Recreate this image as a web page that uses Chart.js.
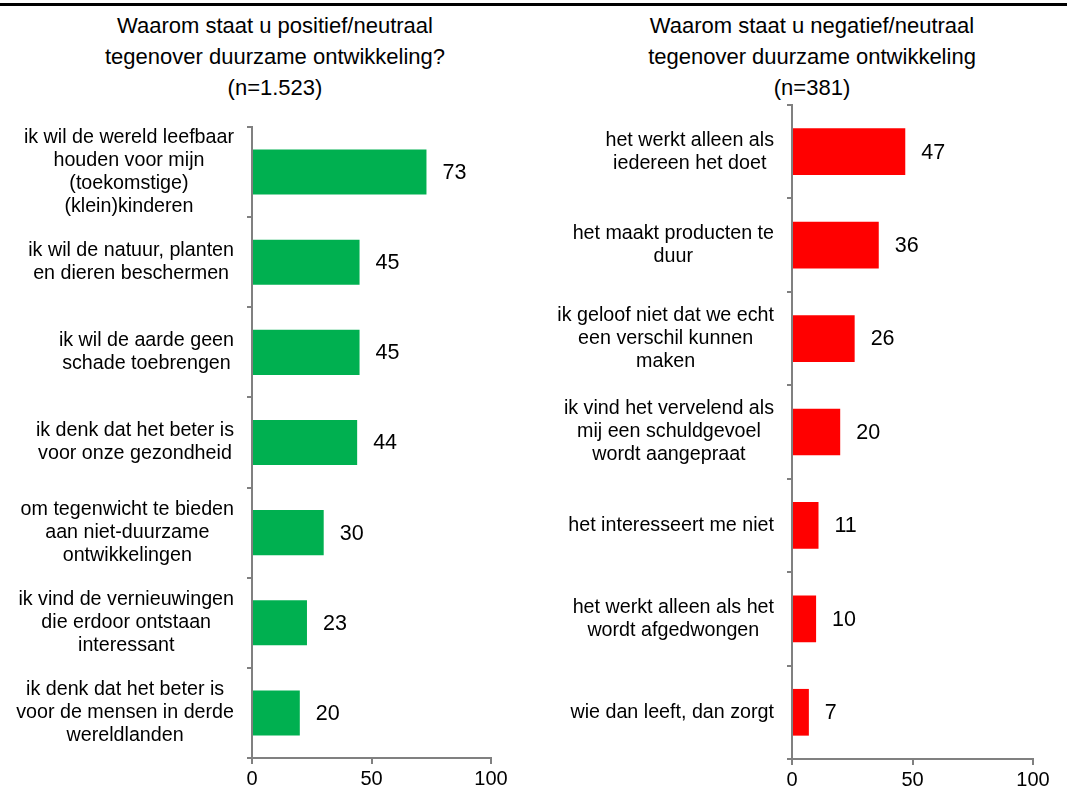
<!DOCTYPE html>
<html>
<head>
<meta charset="utf-8">
<script src="https://cdn.jsdelivr.net/npm/chart.js@4.4.0/dist/chart.umd.min.js"></script>
<style>
  body { margin: 0; background: #fff; width: 1067px; height: 801px; position: relative; overflow: hidden;
         font-family: "Liberation Sans", Arial, sans-serif; }
  #topline { position: absolute; left: 0; top: 3px; width: 1067px; height: 3px; background: #000; }
  .title { position: absolute; top: 10px; width: 440px; text-align: center; font-size: 22px; line-height: 31px; color: #000; }
  canvas { position: absolute; top: 0; }
</style>
</head>
<body>
<div id="topline"></div>
<div class="title" style="left:55px">Waarom staat u positief/neutraal<br>tegenover duurzame ontwikkeling?<br>(n=1.523)</div>
<div class="title" style="left:592px">Waarom staat u negatief/neutraal<br>tegenover duurzame ontwikkeling<br>(n=381)</div>
<canvas id="left" width="530" height="801" style="left:0"></canvas>
<canvas id="right" width="530" height="801" style="left:537px"></canvas>
<script>
var posLabels = [
  ['ik wil de wereld leefbaar', 'houden voor mijn', '(toekomstige)', '(klein)kinderen'],
  ['ik wil de natuur, planten', 'en dieren beschermen'],
  ['ik wil de aarde geen', 'schade toebrengen'],
  ['ik denk dat het beter is', 'voor onze gezondheid'],
  ['om tegenwicht te bieden', 'aan niet-duurzame', 'ontwikkelingen'],
  ['ik vind de vernieuwingen', 'die erdoor ontstaan', 'interessant'],
  ['ik denk dat het beter is', 'voor de mensen in derde', 'wereldlanden']
];
var posValues = [73, 45, 45, 44, 30, 23, 20];

var negLabels = [
  ['het werkt alleen als', 'iedereen het doet'],
  ['het maakt producten te', 'duur'],
  ['ik geloof niet dat we echt', 'een verschil kunnen', 'maken'],
  ['ik vind het vervelend als', 'mij een schuldgevoel', 'wordt aangepraat'],
  ['het interesseert me niet'],
  ['het werkt alleen als het', 'wordt afgedwongen'],
  ['wie dan leeft, dan zorgt']
];
var negValues = [47, 36, 26, 20, 11, 10, 7];

var xTicks = [0, 50, 100];

var FONT = '"Liberation Sans", Arial, sans-serif';

// category labels: block right aligned to the axis, lines centred within the block
var sideLabels = {
  id: 'sideLabels',
  afterDraw: function(chart) {
    var ctx = chart.ctx;
    var yScale = chart.scales.y;
    var right = chart.chartArea.left - 18;
    ctx.save();
    ctx.font = '19.7px ' + FONT;
    ctx.fillStyle = '#000';
    ctx.textAlign = 'center';
    ctx.textBaseline = 'middle';
    chart.data.labels.forEach(function(lab, i) {
      var w = 0;
      lab.forEach(function(t) { w = Math.max(w, ctx.measureText(t).width); });
      var cx = right - w / 2;
      var top = yScale.getPixelForValue(i) - (lab.length - 1) * 23 / 2;
      lab.forEach(function(t, j) { ctx.fillText(t, cx, top + j * 23); });
    });
    ctx.restore();
  }
};

// value next to the end of each bar
var valueLabels = {
  id: 'valueLabels',
  afterDatasetsDraw: function(chart) {
    var ctx = chart.ctx;
    var meta = chart.getDatasetMeta(0);
    var vals = chart.data.datasets[0].data;
    ctx.save();
    ctx.font = '21.5px ' + FONT;
    ctx.fillStyle = '#000';
    ctx.textAlign = 'left';
    ctx.textBaseline = 'middle';
    meta.data.forEach(function(bar, i) {
      ctx.fillText(vals[i], bar.x + 16, bar.y + 1);
    });
    ctx.restore();
  }
};

function makeChart(id, labels, values, color, dims) {
  return new Chart(document.getElementById(id), {
    type: 'bar',
    data: {
      labels: labels,
      datasets: [{
        data: values,
        backgroundColor: color,
        borderWidth: 0,
        categoryPercentage: 1,
        barPercentage: 0.5
      }]
    },
    options: {
      indexAxis: 'y',
      responsive: false,
      animation: false,
      layout: { padding: { top: dims.top, right: dims.right, left: 0, bottom: 0 } },
      plugins: {
        legend: { display: false },
        tooltip: { enabled: false },
        title: { display: false }
      },
      scales: {
        x: {
          min: 0,
          max: 100,
          afterBuildTicks: function(s) { s.ticks = xTicks.map(function(v) { return { value: v }; }); },
          afterFit: function(s) { s.height = dims.xh; },
          grid: { drawOnChartArea: false, color: '#808080', lineWidth: 2, tickLength: 6 },
          border: { color: '#808080', width: 2 },
          ticks: { font: { size: 20, family: FONT }, color: '#000', padding: 3, maxRotation: 0 }
        },
        y: {
          afterFit: function(s) { s.width = dims.yw; },
          grid: { offset: true, drawOnChartArea: false, color: '#808080', lineWidth: 2, tickLength: 5 },
          border: { color: '#808080', width: 2 },
          ticks: { display: false }
        }
      }
    },
    plugins: [sideLabels, valueLabels]
  });
}

makeChart('left', posLabels, posValues, '#00B050', { top: 127, right: 39, xh: 43, yw: 252 });
makeChart('right', negLabels, negValues, '#FF0000', { top: 105, right: 34, xh: 42, yw: 255 });
</script>
</body>
</html>
